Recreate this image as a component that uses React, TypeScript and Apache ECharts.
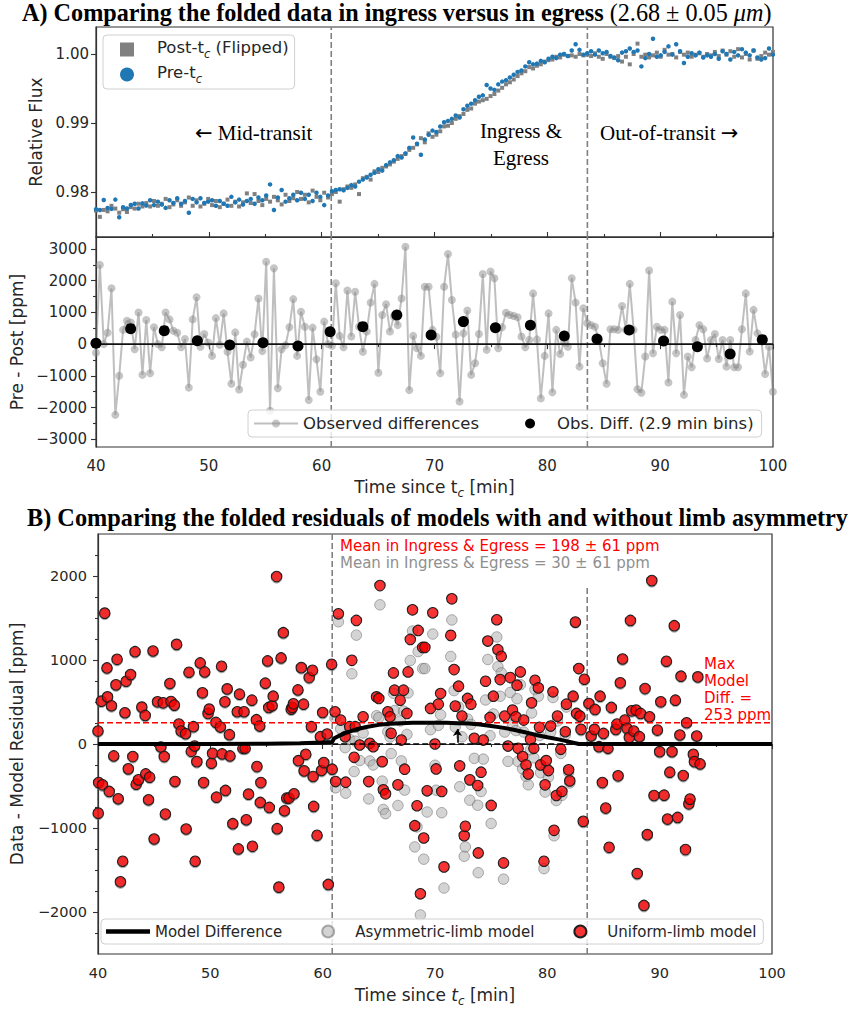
import React, { useEffect, useRef } from "react";
import * as echarts from "echarts";

// ---------------- Panel A: folded light curve ----------------
const FOLD_START = 40.0; // min after t_c of first folded exposure
const FOLD_CADENCE = 0.3428; // min between exposures

const preFlux = [
  0.97752, 0.9774, 0.97885, 0.97768, 0.97755, 0.9789, 0.97635, 0.9778, 0.9776, 0.97812,
  0.9783, 0.9776, 0.97835, 0.97805, 0.9788, 0.9781, 0.9786, 0.9782, 0.9777, 0.9788,
  0.9784, 0.9791, 0.9783, 0.9787, 0.977, 0.979, 0.9785, 0.9791, 0.9784, 0.9786,
  0.9788, 0.978, 0.9787, 0.9783, 0.978, 0.9793, 0.9785, 0.9789, 0.9782, 0.9787,
  0.979, 0.9783, 0.9792, 0.9788, 0.9795, 0.9811, 0.9774, 0.9792, 0.9803, 0.9786,
  0.9791, 0.9796, 0.9788, 0.9799, 0.979, 0.9796, 0.9787, 0.9799, 0.9793, 0.9781,
  0.9795, 0.9801,
  0.9803, 0.9804, 0.98025, 0.9806, 0.981, 0.9808, 0.9815, 0.9818,
  0.9821, 0.9825, 0.9828, 0.9833, 0.9831, 0.9839, 0.9843, 0.9846, 0.9852, 0.985,
  0.9856, 0.9864, 0.9879, 0.987, 0.9854, 0.9876, 0.9883, 0.9889, 0.9887, 0.9895,
  0.9901, 0.9903, 0.9906, 0.9911, 0.9908, 0.992, 0.9925, 0.9928, 0.9933, 0.9938,
  0.994, 0.9955, 0.995, 0.9948, 0.9956, 0.996, 0.9962, 0.9966, 0.997, 0.9974,
  0.9976, 0.9982, 0.9988, 0.9985, 0.9986, 0.999, 0.9988, 0.9993, 0.9996, 0.9994,
  0.9999, 1.0, 0.9997, 1.0005, 1.0014, 1.0006, 0.9999, 1.0001,
  1.0004, 0.9999,
  1.0005, 1.0001, 1.0003, 0.9997, 0.9995, 0.9991, 1.0002, 1.0004, 1.0008, 1.0003,
  1.0005, 0.9982, 0.9994, 1.0, 1.0022, 0.9996, 0.9998, 1.0003, 1.0011, 0.9999,
  1.0014, 1.0004, 0.9987, 0.9996, 1.0001, 0.9998, 1.0002, 0.9995, 0.9998, 0.9996,
  1.0, 0.9993, 1.0004, 1.0, 0.9992, 1.0003, 0.9998, 1.0007, 1.0002, 0.9998,
  1.0005, 0.9995, 0.9992, 0.9994, 1.0008, 0.9999,
];

const postFlux = [
  0.9773, 0.9764, 0.9774, 0.9772, 0.978, 0.9776, 0.977, 0.9775, 0.9771, 0.9778,
  0.9776, 0.9783, 0.9779, 0.9784, 0.9779, 0.9787, 0.978, 0.9783, 0.979, 0.9778,
  0.9782, 0.9788, 0.978, 0.9785, 0.9792, 0.978, 0.9788, 0.9779, 0.9783, 0.979,
  0.9781, 0.9787, 0.9778, 0.9783, 0.9789, 0.978, 0.9786, 0.9779, 0.9785, 0.9798,
  0.9784, 0.9797, 0.9787, 0.9781, 0.979, 0.9786, 0.9793, 0.9788, 0.9782, 0.9796,
  0.9787, 0.9791, 0.98, 0.979, 0.9796, 0.9785, 0.9802, 0.9793, 0.9788, 0.9799,
  0.9792, 0.9797,
  0.98, 0.9786, 0.9804, 0.9808, 0.9806, 0.9811, 0.9797, 0.982,
  0.9822, 0.9818, 0.983, 0.9829, 0.9835, 0.9837, 0.984, 0.9844, 0.9848, 0.9852,
  0.9855, 0.9861, 0.9864, 0.9869, 0.9878, 0.9872, 0.9885, 0.988, 0.9883, 0.9888,
  0.9895, 0.9896, 0.99, 0.9906, 0.991, 0.9913, 0.9919, 0.9921, 0.9928, 0.9931,
  0.9933, 0.9935, 0.9939, 0.9942, 0.9947, 0.9951, 0.9956, 0.9959, 0.9963, 0.9968,
  0.9972, 0.9975, 0.9981, 0.9979, 0.9983, 0.9985, 0.9989, 0.9991, 0.9992, 0.9996,
  0.9995, 0.9999, 0.9997, 0.9998, 0.9996, 1.0, 0.9998, 0.9999,
  0.9997, 1.0001,
  0.9996, 0.9993, 1.0, 0.9996, 0.9994, 0.9997, 0.9989, 0.9996, 0.9985, 1.0,
  1.0015, 0.9996, 0.9999, 0.9995, 0.9998, 1.0002, 0.9996, 1.0006, 0.9999, 1.0,
  0.9995, 1.0003, 0.9999, 1.0002, 0.9996, 0.9999, 1.0001, 0.9996, 1.0, 0.9998,
  1.0003, 0.9997, 1.0005, 0.9999, 1.0004, 0.9996, 1.0007, 0.9995, 1.0, 0.9992,
  1.0005, 0.9993, 0.9997, 1.0002, 0.9999, 1.0003,
];

const diffPpm = [
  -270, 2500, 0, 360, 1760, -2230, -1000, 450, 740, 680,
  -160, 1000, -970, 760, -920, 530, 0, -100, 1000, 780,
  420, 360, -100, 160, -1370, 780, 1480, -80, 320, 50,
  -370, 820, -20, 970, -240, -1250, 370, -1430, -650, 80,
  -420, 310, 1440, -220, 2600, -2100, 2390, -1390, -160, -30,
  530, 1420, -370, 1020, 550, -1760, 520, -480, -1500, 710,
  0, -50, 1920, 260, -100, 1690, 240, 1650, 550, -240,
  400, 1310, 1900, -900, 920, 1260, 400, 870, 600, 1440,
  3070, -1450, 260, -130, -370, 1810, 1810, 450, 235, -920,
  1810, 2840, 1390, 300, -1810, 340, 1060, -970, -600, 320,
  2210, -180, 2290, 2080, -130, 530, 990, 920, 890, 850,
  240, -100, 130, 1600, 150, -1710, -370, 970, -1520, 450,
  -310, 50, -80, 2080, 1310, -710, 1130, 660, 600, 550,
  130, -600, -1250, 470, 470, 450, 1200, 450, 1900, 450,
  -1420, -1530, -390, 2320, -290, 550, 450, 450, -1210, 1340,
  -290, 920, -1600, -390, -730, 130, 600, 470, -450, 130,
  320, -470, 130, -710, 130, -730, -730, 470, 1600, -235,
  1080, 340, 130, -940, -80, -1500,
];

const binTimes = [40.0, 43.07, 46.05, 48.98, 51.85, 54.8, 57.9, 60.75, 63.65, 66.66, 69.7, 72.56, 75.4, 78.5, 81.5, 84.4, 87.25, 90.3, 93.3, 96.2, 99.05];
const binDiffPpm = [28, 489, 426, 110, -25, 47, -57, 394, 552, 920, 290, 710, 520, 595, 260, 163, 448, 100, -79, -309, 142];

// ---------------- Panel B: folded residuals ----------------
const uniformResid = [
  [40.0,154],[40.02,-823],[40.06,-459],[40.3,510],[40.4,-486],[40.6,1558],[40.8,905],[40.85,561],[41.0,-565],[41.2,455],
  [41.4,-142],[41.6,704],[41.7,1008],[41.8,-652],[42.0,-1641],[42.2,-1396],[42.4,372],[42.5,747],[42.7,-296],[42.9,826],
  [43.1,-150],[43.3,1099],[43.4,-478],[43.6,-427],[43.9,439],[44.2,340],[44.25,-356],[44.5,-664],[44.6,-395],[44.9,1107],
  [45.0,-1131],[45.3,502],[45.6,-36],[45.8,490],[45.9,-150],[46.0,-834],[46.4,720],[46.5,506],[46.8,463],[46.85,-447],
  [47.0,1186],[47.2,237],[47.4,154],[47.8,123],[47.85,-1012],[48.1,854],[48.3,-87],[48.5,206],[48.6,-24],[48.65,-1396],
  [48.8,-210],[49.1,965],[49.3,609],[49.4,-459],[49.5,858],[49.8,364],[49.9,415],[50.1,-229],[50.2,-111],[50.5,257],
  [50.55,-633],[50.9,202],[51.0,925],[51.05,-118],[51.3,502],[51.35,-553],[51.5,656],[51.7,111],[51.75,-142],[52.0,-949],
  [52.4,384],[52.5,-1249],[52.6,593],[52.9,-51],[53.0,384],[53.1,-51],[53.2,-902],[53.4,-597],[53.7,522],[53.75,-1218],
  [54.1,289],[54.15,-269],[54.4,214],[54.45,-696],[54.5,-459],[54.9,724],[55.1,989],[55.2,435],[55.25,-755],[55.5,455],
  [55.6,569],[55.9,1993],[55.95,-1008],[56.1,-1704],[56.3,1024],[56.5,1325],[56.6,-795],[56.8,-644],[57.0,-644],[57.2,415],
  [57.3,435],[57.4,478],[57.45,-593],[57.8,644],[57.85,-198],[58.1,909],[58.3,474],[58.35,-320],[58.5,-123],[58.8,791],
  [59.0,206],[59.1,877],[59.15,-387],[59.2,-743],[59.5,-1087],[59.8,87],[59.9,-316],[60.0,375],[60.1,-221],[60.4,119],
  [60.5,-1672],[60.8,949],[60.85,-300],
  [61.1,384],[61.15,-447],[61.4,1550],[61.6,285],[62.0,87],[62.05,-455],[62.4,206],[62.6,996],[62.8,-158],[62.9,206],
  [63.0,1471],[63.3,-12],[63.6,324],[64.1,-447],[64.2,8],[64.5,-32],[64.8,561],[65.0,542],[65.1,1886],[65.3,-210],
  [65.4,-546],[65.6,-593],[65.8,384],[66.0,324],[66.1,127],[66.3,846],[66.4,641],[66.7,-486],[66.9,522],[67.0,47],
  [67.2,641],[67.3,-300],[67.5,364],[67.6,858],[67.8,1245],[68.0,1597],[68.2,-973],[68.4,-735],[68.5,1352],[68.7,-1783],
  [68.9,1150],[69.0,-1119],[69.1,1150],[69.3,-557],[69.6,423],[69.8,1562],[70.0,0],[70.1,-297],[70.3,474],[70.5,601],
  [70.6,-565],[70.8,-1463],[71.4,1293],[71.5,1728],[71.7,886],[71.8,451],[72.1,688],[72.2,-261],[72.4,332],[72.6,-1091],
  [72.7,-980],[72.9,542],[73.1,-427],[73.2,474],[73.5,67],[73.8,-494],[73.85,-1297],[74.1,-336],[74.3,47],[74.5,747],
  [74.7,1226],[74.9,316],[75.0,-731],[75.2,569],[75.5,1479],[75.6,1123],[75.8,767],[75.9,1044],[76.1,-1416],[76.2,332],
  [76.5,-24],[76.7,791],[76.9,403],[77.2,324],[77.3,700],[77.4,-51],[77.6,858],[77.8,-150],[77.9,285],[78.1,-249],
  [78.3,-356],[78.5,55],[78.6,490],[78.8,-51],[78.9,759],[79.2,668],[79.3,198],[79.4,-249],[79.7,-1396],[79.8,-486],
  [79.9,-198],[80.1,-316],[80.3,214],[80.5,621],[80.6,-1028],[80.8,-613],[80.9,332],[81.2,-63],[81.3,-565],[81.6,146],
  [81.7,474],[81.9,-308],[82.0,-439],[82.3,569],[82.5,1451],[82.6,364],[82.8,898],[82.9,332],[83.0,174],[83.2,-921],
  [83.3,771],[83.7,482],[83.9,95],[84.2,174],[84.25,411],[84.6,-32],[84.7,569],[84.9,-459],[85.0,126],[85.2,-763],
  [85.4,-51],[85.5,-1230],[85.7,435],[86.1,174],[86.2,237],[86.3,-379],[86.5,728],[86.7,1012],[86.9,285],[87.1,186],
  [87.3,79],[87.4,1471],[87.5,395],[87.7,154],[87.9,403],[88.0,-1542],[88.2,87],[88.3,364],[88.6,-1922],[88.7,660],
  [88.9,-1079],[89.1,324],[89.3,1945],[89.5,-613],[89.8,166],[90.0,-91],[90.1,502],[90.4,-609],[90.6,985],[90.7,-894],
  [90.9,-336],[91.1,-91],[91.3,1408],[91.4,522],[91.6,-874],[91.8,107],[91.9,807],[92.1,-376],[92.3,-1257],[92.4,253],
  [92.6,-712],[92.7,-656],[93.0,-123],[93.1,-210],[93.3,95],[93.4,799],[93.6,-237],
];

const asymResid = [
  [40.0,139],[40.02,-838],[40.06,-474],[40.3,495],[40.4,-501],[40.6,1543],[40.8,890],[40.85,546],[41.0,-580],[41.2,440],
  [41.4,-157],[41.6,689],[41.7,993],[41.8,-667],[42.0,-1656],[42.2,-1411],[42.4,357],[42.5,732],[42.7,-311],[42.9,811],
  [43.1,-165],[43.3,1084],[43.4,-493],[43.6,-442],[43.9,424],[44.2,325],[44.25,-371],[44.5,-679],[44.6,-410],[44.9,1092],
  [45.0,-1146],[45.3,487],[45.6,-51],[45.8,475],[45.9,-165],[46.0,-849],[46.4,705],[46.5,491],[46.8,448],[46.85,-462],
  [47.0,1171],[47.2,222],[47.4,139],[47.8,108],[47.85,-1027],[48.1,839],[48.3,-102],[48.5,191],[48.6,-39],[48.65,-1411],
  [48.8,-225],[49.1,950],[49.3,594],[49.4,-474],[49.5,843],[49.8,349],[49.9,400],[50.1,-244],[50.2,-126],[50.5,242],
  [50.55,-648],[50.9,187],[51.0,910],[51.05,-133],[51.3,487],[51.35,-568],[51.5,641],[51.7,96],[51.75,-157],[52.0,-964],
  [52.4,369],[52.5,-1264],[52.6,578],[52.9,-66],[53.0,369],[53.1,-66],[53.2,-917],[53.4,-612],[53.7,507],[53.75,-1233],
  [54.1,274],[54.15,-284],[54.4,199],[54.45,-711],[54.5,-474],[54.9,709],[55.1,974],[55.2,420],[55.25,-770],[55.5,440],
  [55.6,554],[55.9,1978],[55.95,-1023],[56.1,-1719],[56.3,1009],[56.5,1310],[56.6,-810],[56.8,-659],[57.0,-659],[57.2,400],
  [57.3,420],[57.4,463],[57.45,-608],[57.8,629],[57.85,-213],[58.1,894],[58.3,459],[58.35,-335],[58.5,-138],[58.8,776],
  [59.0,191],[59.1,862],[59.15,-402],[59.2,-758],[59.5,-1102],[59.8,72],[59.9,-331],[60.0,360],[60.1,-236],[60.4,104],
  [60.5,-1687],[60.8,934],[60.85,-315],
  [61.1,309],[61.15,-522],[61.4,1455],[61.6,180],[62.0,-43],[62.05,-585],[62.4,56],[62.6,836],[62.8,-328],[62.9,34],
  [63.0,1296],[63.3,-197],[63.6,131],[64.1,-654],[64.2,-202],[64.5,-250],[64.8,337],[65.0,314],[65.1,1657],[65.3,-442],
  [65.4,-779],[65.6,-829],[65.8,146],[66.0,84],[66.1,-114],[66.3,604],[66.4,398],[66.7,-732],[66.9,275],[67.0,-201],
  [67.2,392],[67.3,-549],[67.5,114],[67.6,608],[67.8,994],[68.0,1345],[68.2,-1225],[68.4,-987],[68.5,1100],[68.7,-2035],
  [68.9,898],[69.0,-1371],[69.1,898],[69.3,-810],[69.6,170],[69.8,1309],[70.0,-253],[70.1,-550],[70.3,221],[70.5,348],
  [70.6,-818],[70.8,-1715],[71.4,1042],[71.5,1477],[71.7,636],[71.8,201],[72.1,440],[72.2,-509],[72.4,85],[72.6,-1337],
  [72.7,-1225],[72.9,298],[73.1,-669],[73.2,233],[73.5,-171],[73.8,-729],[73.85,-1532],[74.1,-566],[74.3,-180],[74.5,524],
  [74.7,1006],[74.9,99],[75.0,-946],[75.2,358],[75.5,1274],[75.6,920],[75.8,568],[75.9,847],[76.1,-1609],[76.2,142],
  [76.5,-207],[76.7,613],[76.9,230],[77.2,160],[77.3,539],[77.4,-209],[77.6,706],[77.8,-296],[77.9,142],[78.1,-386],
  [78.3,-486],[78.5,-69],[78.6,369],[78.8,-165],[78.9,648],[79.2,568],[79.3,101],[79.4,-343],[79.7,-1484],[79.8,-572],
  [79.9,-281],[80.1,-394],[80.3,141],[80.5,553],[80.6,-1093],[80.8,-673],[80.9,274],[81.2,-112],[81.3,-611],[81.6,109],
  [81.7,440],[81.9,-336],[82.0,-464],[82.3,553],[82.5,1441],[82.6,357],[82.8,896],[82.9,317],[83.0,159],[83.2,-936],
  [83.3,756],[83.7,467],[83.9,80],[84.2,159],[84.25,396],[84.6,-47],[84.7,554],[84.9,-474],[85.0,111],[85.2,-778],
  [85.4,-66],[85.5,-1245],[85.7,420],[86.1,159],[86.2,222],[86.3,-394],[86.5,713],[86.7,997],[86.9,270],[87.1,171],
  [87.3,64],[87.4,1456],[87.5,380],[87.7,139],[87.9,388],[88.0,-1557],[88.2,72],[88.3,349],[88.6,-1937],[88.7,645],
  [88.9,-1094],[89.1,309],[89.3,1930],[89.5,-628],[89.8,151],[90.0,-106],[90.1,487],[90.4,-624],[90.6,970],[90.7,-909],
  [90.9,-351],[91.1,-106],[91.3,1393],[91.4,507],[91.6,-889],[91.8,92],[91.9,792],[92.1,-391],[92.3,-1272],[92.4,238],
  [92.6,-727],[92.7,-671],[93.0,-138],[93.1,-225],[93.3,80],[93.4,784],[93.6,-252],
];

const modelDiffTimes = [40, 50, 55, 58, 60, 60.85, 61.0, 61.5, 62, 63, 64, 65, 66, 67, 68, 69, 70, 71, 72, 73, 74, 75, 76, 77, 78, 79, 80, 81, 82, 82.8, 90, 100];
const modelDiffPpm = [0, 0, 3, 8, 18, 25, 65, 100, 130, 175, 205, 228, 240, 248, 252, 253, 253, 252, 248, 243, 232, 215, 195, 170, 140, 108, 80, 55, 25, 0, 0, 0];

// ---------------- reference marks & ticks ----------------
const INGRESS_START = 60.85;
const EGRESS_END = 83.55;
const EGRESS_LINE_TOP = 1890;
const MAX_MODEL_DIFF = 253;
const ARROW_TIME = 72.0;
const ARROW_BASE = 15;
const ARROW_TIP = 180;

const TIME_MIN = 40;
const TIME_MAX = 100;
const FLUX_MIN = 0.97348;
const FLUX_MAX = 1.00391;
const DIFF_MIN = -3243;
const DIFF_MAX = 3378;
const RESID_MIN = -2500;
const RESID_MAX = 2500;

const fluxTicks = [0.98, 0.99, 1.0];
const diffTicks = [-3000, -2000, -1000, 0, 1000, 2000, 3000];
const diffMinorTicks = [-2500, -1500, -500, 500, 1500, 2500];
const residTicks = [-2000, -1000, 0, 1000, 2000];
const residMinorTicks = [-2250, -1750, -1500, -1250, -750, -500, -250, 250, 500, 750, 1250, 1500, 1750, 2250];

const POST_NAME = "Post-tc (Flipped)";
const PRE_NAME = "Pre-tc";
const OBS_NAME = "Observed differences";
const BIN_NAME = "Obs. Diff. (2.9 min bins)";
const MODEL_NAME = "Model Difference";
const ASYM_NAME = "Asymmetric-limb model";
const UNIF_NAME = "Uniform-limb model";

const SANS = "'DejaVu Sans', Verdana, sans-serif";
const SERIF = "'Liberation Serif', 'Times New Roman', 'DejaVu Serif', serif";
const INK = "#262626";

const fmtInt = (v: number) => (v < 0 ? "\u2212" + Math.abs(v) : String(v));

function buildOption() {
  const fluxTimes = preFlux.map((_, i) => Number((FOLD_START + i * FOLD_CADENCE).toFixed(3)));
  const preData = fluxTimes.map((t, i) => [t, preFlux[i]]);
  const postData = fluxTimes.map((t, i) => [t, postFlux[i]]);
  const diffData = fluxTimes.map((t, i) => [t, diffPpm[i]]);
  const binData = binTimes.map((t, i) => [t, binDiffPpm[i]]);
  const modelData = modelDiffTimes.map((t, i) => [t, modelDiffPpm[i]]);

  const axisLine = { show: true, lineStyle: { color: "#333", width: 1.2 } };
  const tickStyle = { color: "#333", width: 1.1 };

  const xBase = (gridIndex: number, showLabel: boolean, fontSize: number, name: string, rich: any, nameGap: number) => ({
    type: "value",
    gridIndex,
    min: TIME_MIN,
    max: TIME_MAX,
    interval: 10,
    axisLine,
    axisTick: { show: true, inside: !showLabel, length: 5, lineStyle: tickStyle },
    minorTick: { show: true, splitNumber: 2, length: 3, lineStyle: tickStyle },
    splitLine: { show: false },
    minorSplitLine: { show: false },
    axisLabel: { show: showLabel, fontSize, fontFamily: SANS, color: INK, margin: 11 },
    name,
    nameLocation: "middle",
    nameGap,
    nameTextStyle: { rich },
  });

  const subRich = (size: number) => ({
    n: { fontSize: size, fontFamily: SANS, color: INK, lineHeight: size + 4, verticalAlign: "top" },
    it: { fontSize: size, fontFamily: SANS, fontStyle: "italic", color: INK, lineHeight: size + 4, verticalAlign: "top" },
    s: { fontSize: size * 0.7, fontFamily: SANS, fontStyle: "italic", color: INK, lineHeight: size * 0.55, verticalAlign: "bottom" },
  });

  const yMain = (gridIndex: number, min: number, max: number, ticks: number[], fmt: (v: number) => string, fontSize: number, margin: number, name: string, nameGap: number) => ({
    type: "value",
    gridIndex,
    min,
    max,
    axisLine,
    axisTick: { show: true, length: 5, lineStyle: tickStyle, customValues: ticks },
    splitLine: { show: false },
    axisLabel: { show: true, customValues: ticks, formatter: fmt, fontSize, fontFamily: SANS, color: INK, margin },
    name,
    nameLocation: "middle",
    nameGap,
    nameTextStyle: { fontSize: 17, fontFamily: SANS, color: INK },
  });

  const yMinor = (gridIndex: number, min: number, max: number, ticks: number[]) => ({
    type: "value",
    gridIndex,
    min,
    max,
    position: "left",
    axisLine: { show: false },
    axisTick: { show: true, length: 3, lineStyle: tickStyle, customValues: ticks },
    axisLabel: { show: false },
    splitLine: { show: false },
  });

  const vline = (xi: number, yi: number, x: number, y0: number, y1: number) => ({
    type: "line",
    xAxisIndex: xi,
    yAxisIndex: yi,
    data: [[x, y0], [x, y1]],
    symbol: "none",
    silent: true,
    z: 1,
    lineStyle: { color: "#808080", width: 1.6, type: [6, 3] },
  });

  const legendBox = {
    borderColor: "#d0d0d0",
    borderWidth: 1,
    borderRadius: 4,
    backgroundColor: "rgba(255,255,255,0.8)",
    selectedMode: false,
  };

  return {
    animation: false,
    backgroundColor: "#fff",
    grid: [
      { left: 96, top: 27, width: 677, height: 210, show: true, borderColor: "#333", borderWidth: 1.2 },
      { left: 96, top: 237, width: 677, height: 210, show: true, borderColor: "#333", borderWidth: 1.2 },
      { left: 95, top: 534, width: 677, height: 420, show: true, borderColor: "#333", borderWidth: 1.2 },
    ],
    xAxis: [
      xBase(0, false, 15, "", {}, 30),
      xBase(1, true, 15, "{n|Time since t}{s|c}{n| [min]}", subRich(17), 31),
      xBase(2, true, 14.5, "{n|Time since }{it|t}{s|c}{n| [min]}", subRich(17), 32),
    ],
    yAxis: [
      yMain(0, FLUX_MIN, FLUX_MAX, fluxTicks, (v: number) => v.toFixed(2), 15, 7, "Relative Flux", 52),
      yMain(1, DIFF_MIN, DIFF_MAX, diffTicks, fmtInt, 15, 9, "Pre - Post [ppm]", 70),
      yMain(2, RESID_MIN, RESID_MAX, residTicks, fmtInt, 14.5, 11, "Data - Model Residual [ppm]", 73),
      yMinor(1, DIFF_MIN, DIFF_MAX, diffMinorTicks),
      yMinor(2, RESID_MIN, RESID_MAX, residMinorTicks),
    ],
    legend: [
      {
        ...legendBox,
        orient: "vertical",
        left: 103,
        top: 35,
        padding: [4, 6, 4, 17],
        itemGap: 4,
        itemWidth: 14,
        itemHeight: 14,
        data: [
          { name: POST_NAME, icon: "rect" },
          { name: PRE_NAME, icon: "circle" },
        ],
        formatter: (n: string) => (n === POST_NAME ? "{p| }{t|Post-t}{s|c}{t| (Flipped)}" : "{p| }{t|Pre-t}{s|c}"),
        textStyle: {
          fontSize: 16.5,
          fontFamily: SANS,
          color: INK,
          rich: {
            p: { width: 18, fontSize: 16.5, lineHeight: 21, verticalAlign: "top" },
            t: { fontSize: 16.5, fontFamily: SANS, color: INK, lineHeight: 21, verticalAlign: "top" },
            s: { fontSize: 11.5, fontFamily: SANS, fontStyle: "italic", color: INK, lineHeight: 9, verticalAlign: "bottom" },
          },
        },
      },
      {
        ...legendBox,
        orient: "horizontal",
        left: 248,
        top: 410,
        padding: [5, 8, 5, 5],
        itemGap: 46,
        itemWidth: 44,
        itemHeight: 10,
        data: [{ name: OBS_NAME }, { name: BIN_NAME, icon: "circle" }],
        textStyle: { fontSize: 16.5, fontFamily: SANS, color: INK },
      },
      {
        ...legendBox,
        orient: "horizontal",
        left: 101,
        top: 919,
        padding: [5, 7, 5, 5],
        itemGap: 39,
        itemWidth: 44,
        itemHeight: 12,
        data: [
          { name: MODEL_NAME, icon: "path://M0,0H40V4H0Z" },
          { name: ASYM_NAME, icon: "circle" },
          { name: UNIF_NAME, icon: "circle" },
        ],
        textStyle: { fontSize: 15, fontFamily: SANS, color: INK },
      },
    ],
    series: [
      // ---- Panel A top ----
      vline(0, 0, INGRESS_START, FLUX_MIN, FLUX_MAX),
      vline(0, 0, EGRESS_END, FLUX_MIN, FLUX_MAX),
      {
        type: "scatter",
        name: POST_NAME,
        xAxisIndex: 0,
        yAxisIndex: 0,
        data: postData,
        symbol: "rect",
        symbolSize: 4,
        itemStyle: { color: "#808080", opacity: 1 },
        z: 2,
      },
      {
        type: "scatter",
        name: PRE_NAME,
        xAxisIndex: 0,
        yAxisIndex: 0,
        data: preData,
        symbol: "circle",
        symbolSize: 4.5,
        itemStyle: { color: "#1f77b4", opacity: 1 },
        z: 3,
      },
      // ---- Panel A bottom ----
      vline(1, 1, INGRESS_START, DIFF_MIN, DIFF_MAX),
      vline(1, 1, EGRESS_END, DIFF_MIN, DIFF_MAX),
      {
        type: "line",
        name: OBS_NAME,
        xAxisIndex: 1,
        yAxisIndex: 1,
        data: diffData,
        symbol: "circle",
        symbolSize: 8,
        showSymbol: true,
        lineStyle: { color: "rgba(128,128,128,0.5)", width: 2 },
        itemStyle: { color: "rgba(140,140,140,0.5)", borderWidth: 0, opacity: 1 },
        z: 2,
      },
      {
        type: "line",
        xAxisIndex: 1,
        yAxisIndex: 1,
        data: [[TIME_MIN, 0], [TIME_MAX, 0]],
        symbol: "none",
        silent: true,
        lineStyle: { color: "#111", width: 1.8 },
        z: 3,
      },
      {
        type: "scatter",
        name: BIN_NAME,
        xAxisIndex: 1,
        yAxisIndex: 1,
        data: binData,
        symbol: "circle",
        symbolSize: 11,
        itemStyle: { color: "#000", opacity: 1 },
        z: 4,
      },
      // ---- Panel B ----
      vline(2, 2, INGRESS_START, RESID_MIN, RESID_MAX),
      vline(2, 2, EGRESS_END, RESID_MIN, EGRESS_LINE_TOP),
      {
        type: "scatter",
        name: ASYM_NAME,
        xAxisIndex: 2,
        yAxisIndex: 2,
        data: asymResid,
        symbol: "circle",
        symbolSize: 10.5,
        itemStyle: { color: "rgba(170,170,170,0.5)", borderColor: "rgba(100,100,100,0.5)", borderWidth: 1, opacity: 1 },
        z: 2,
      },
      {
        type: "scatter",
        name: UNIF_NAME,
        xAxisIndex: 2,
        yAxisIndex: 2,
        data: uniformResid,
        symbol: "circle",
        symbolSize: 10.5,
        itemStyle: { color: "rgba(245,0,0,0.8)", borderColor: "#1e1e1e", borderWidth: 1.1, opacity: 1 },
        z: 3,
      },
      {
        type: "line",
        xAxisIndex: 2,
        yAxisIndex: 2,
        data: [[TIME_MIN, MAX_MODEL_DIFF], [TIME_MAX, MAX_MODEL_DIFF]],
        symbol: "none",
        silent: true,
        lineStyle: { color: "#ff0000", width: 1.6, type: [6, 3] },
        z: 4,
      },
      {
        type: "line",
        xAxisIndex: 2,
        yAxisIndex: 2,
        data: [[INGRESS_START, 0], [EGRESS_END, 0]],
        symbol: "none",
        silent: true,
        lineStyle: { color: "#000", width: 1.6, type: [6, 3] },
        z: 4,
        markLine: {
          silent: true,
          animation: false,
          symbol: ["none", "arrow"],
          symbolSize: 7,
          label: { show: false },
          lineStyle: { color: "#000", width: 1.6, type: "solid" },
          data: [[{ coord: [ARROW_TIME, ARROW_BASE] }, { coord: [ARROW_TIME, ARROW_TIP] }]],
        },
      },
      {
        type: "line",
        name: MODEL_NAME,
        xAxisIndex: 2,
        yAxisIndex: 2,
        data: modelData,
        symbol: "none",
        lineStyle: { color: "#000", width: 4 },
        itemStyle: { color: "#000" },
        z: 5,
      },
    ],
    graphic: [
      {
        type: "text",
        left: 22,
        top: 0,
        z: 10,
        style: {
          text: "{b|A) Comparing the folded data in ingress versus in egress }{r|(2.68 \u00b1 0.05 }{i|\u03bcm}{r|)}",
          rich: {
            b: { fontFamily: SERIF, fontWeight: "bold", fontSize: 24.2, fill: "#000" },
            r: { fontFamily: SERIF, fontSize: 24.2, fill: "#000" },
            i: { fontFamily: SERIF, fontStyle: "italic", fontSize: 24.2, fill: "#000" },
          },
        },
      },
      {
        type: "text",
        left: 27,
        top: 505,
        z: 10,
        style: {
          text: "B) Comparing the folded residuals of models with and without limb asymmetry",
          font: `bold 24.3px ${SERIF}`,
          fill: "#000",
        },
      },
      {
        type: "text",
        left: 195,
        top: 122,
        z: 10,
        style: {
          text: "{a|\u2190}{t| Mid-transit}",
          rich: {
            a: { fontFamily: SANS, fontSize: 21, fill: "#000", lineHeight: 26 },
            t: { fontFamily: SERIF, fontSize: 21, fill: "#000", lineHeight: 26 },
          },
        },
      },
      {
        type: "text",
        x: 521,
        y: 117,
        z: 10,
        style: {
          text: "Ingress &\nEgress",
          font: `21px ${SERIF}`,
          fill: "#000",
          align: "center",
          verticalAlign: "top",
          lineHeight: 27,
        },
      },
      {
        type: "text",
        left: 600,
        top: 122,
        z: 10,
        style: {
          text: "{t|Out-of-transit }{a|\u2192}",
          rich: {
            a: { fontFamily: SANS, fontSize: 21, fill: "#000", lineHeight: 26 },
            t: { fontFamily: SERIF, fontSize: 21, fill: "#000", lineHeight: 26 },
          },
        },
      },
      {
        type: "text",
        left: 340,
        top: 538,
        z: 10,
        style: { text: "Mean in Ingress & Egress = 198 \u00b1 61 ppm", font: `15px ${SANS}`, fill: "#ff0000" },
      },
      {
        type: "text",
        left: 340,
        top: 555,
        z: 10,
        style: { text: "Mean in Ingress & Egress = 30 \u00b1 61 ppm", font: `15px ${SANS}`, fill: "#8f8f8f" },
      },
      {
        type: "text",
        left: 704,
        top: 655,
        z: 10,
        style: { text: "Max\nModel\nDiff. =\n253 ppm", font: `15px ${SANS}`, fill: "#ff0000", lineHeight: 17 },
      },
    ],
  };
}

export default function App() {
  const ref = useRef<HTMLDivElement>(null);
  useEffect(() => {
    document.body.style.margin = "0";
    const chart = echarts.init(ref.current!, null, { renderer: "svg", width: 853, height: 1009 });
    chart.setOption(buildOption() as any);
    return () => chart.dispose();
  }, []);
  return <div ref={ref} style={{ position: "absolute", left: 0, top: 0, width: 853, height: 1009 }} />;
}
